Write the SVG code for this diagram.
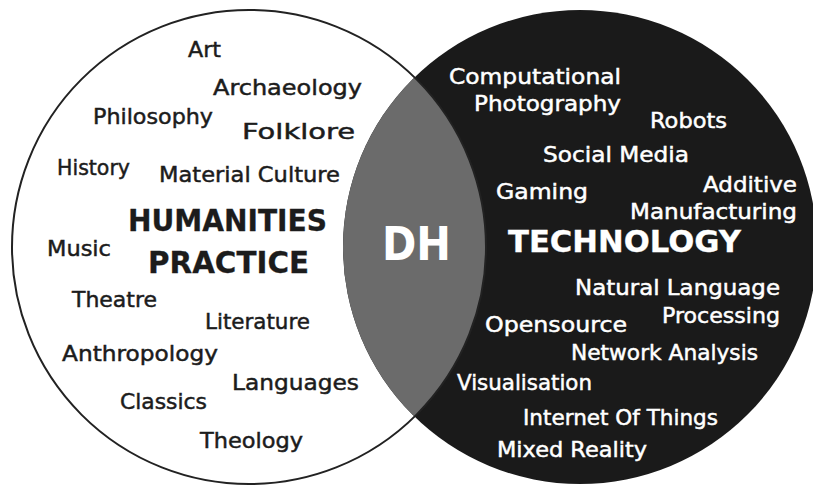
<svg xmlns="http://www.w3.org/2000/svg" width="813" height="486" viewBox="0 0 813 486">
  <style>
    .lbl { font-family: "DejaVu Sans", "Liberation Sans", sans-serif; font-size: 22px; stroke-width: 0.5px; }
    .dark { fill: #1c1c1c; stroke: #1c1c1c; }
    .light { fill: #ffffff; stroke: #ffffff; }
    .title { font-family: "DejaVu Sans", "Liberation Sans", sans-serif; font-weight: bold; font-size: 30px; stroke-width: 0.3px; }
  </style>
  <defs>
    <clipPath id="clip-tech">
      <circle cx="580" cy="247" r="237"/>
    </clipPath>
  </defs>

  <!-- Humanities circle -->
  <g id="humanities">
    <circle cx="249" cy="247" r="237" fill="#ffffff"/>
  </g>

  <!-- Technology circle -->
  <g id="technology">
    <circle cx="580" cy="247" r="237" fill="#1a1a1a"/>
  </g>

  <!-- Overlap: Digital Humanities -->
  <g id="dh">
    <circle cx="249" cy="247" r="237" fill="#6b6b6b" clip-path="url(#clip-tech)"/>
    <text x="382" y="260" font-family="DejaVu Sans, Liberation Sans, sans-serif" font-weight="bold" font-size="47" fill="#ffffff" textLength="69" lengthAdjust="spacingAndGlyphs">DH</text>
  </g>

  <!-- Humanities outline -->
  <circle cx="249" cy="247" r="237" fill="none" stroke="#222222" stroke-width="2"/>

  <!-- Humanities topics -->
  <g id="humanities-labels" class="lbl dark">
    <text x="188" y="57" textLength="33" lengthAdjust="spacingAndGlyphs">Art</text>
    <text x="213" y="95" textLength="149" lengthAdjust="spacingAndGlyphs">Archaeology</text>
    <text x="93" y="124" textLength="120" lengthAdjust="spacingAndGlyphs">Philosophy</text>
    <text x="242" y="139" textLength="113" lengthAdjust="spacingAndGlyphs">Folklore</text>
    <text x="57" y="175" textLength="73" lengthAdjust="spacingAndGlyphs">History</text>
    <text x="159" y="182" textLength="181" lengthAdjust="spacingAndGlyphs">Material Culture</text>
    <text x="47" y="256" textLength="64" lengthAdjust="spacingAndGlyphs">Music</text>
    <text x="72" y="307" textLength="85" lengthAdjust="spacingAndGlyphs">Theatre</text>
    <text x="205" y="329" textLength="105" lengthAdjust="spacingAndGlyphs">Literature</text>
    <text x="62" y="361" textLength="156" lengthAdjust="spacingAndGlyphs">Anthropology</text>
    <text x="232" y="390" textLength="127" lengthAdjust="spacingAndGlyphs">Languages</text>
    <text x="120" y="409" textLength="87" lengthAdjust="spacingAndGlyphs">Classics</text>
    <text x="200" y="448" textLength="103" lengthAdjust="spacingAndGlyphs">Theology</text>
  </g>
  <g id="humanities-title" class="title dark">
    <text x="128" y="231" textLength="199" lengthAdjust="spacingAndGlyphs">HUMANITIES</text>
    <text x="148" y="273" textLength="161" lengthAdjust="spacingAndGlyphs">PRACTICE</text>
  </g>

  <!-- Technology topics -->
  <g id="technology-labels" class="lbl light">
    <text x="449" y="84" textLength="172" lengthAdjust="spacingAndGlyphs">Computational</text>
    <text x="474" y="111" textLength="147" lengthAdjust="spacingAndGlyphs">Photography</text>
    <text x="650" y="128" textLength="77" lengthAdjust="spacingAndGlyphs">Robots</text>
    <text x="543" y="162" textLength="146" lengthAdjust="spacingAndGlyphs">Social Media</text>
    <text x="496" y="199" textLength="92" lengthAdjust="spacingAndGlyphs">Gaming</text>
    <text x="703" y="192" textLength="94" lengthAdjust="spacingAndGlyphs">Additive</text>
    <text x="630" y="219" textLength="167" lengthAdjust="spacingAndGlyphs">Manufacturing</text>
    <text x="575" y="295" textLength="205" lengthAdjust="spacingAndGlyphs">Natural Language</text>
    <text x="662" y="323" textLength="118" lengthAdjust="spacingAndGlyphs">Processing</text>
    <text x="485" y="332" textLength="142" lengthAdjust="spacingAndGlyphs">Opensource</text>
    <text x="571" y="360" textLength="187" lengthAdjust="spacingAndGlyphs">Network Analysis</text>
    <text x="457" y="390" textLength="135" lengthAdjust="spacingAndGlyphs">Visualisation</text>
    <text x="523" y="425" textLength="195" lengthAdjust="spacingAndGlyphs">Internet Of Things</text>
    <text x="497" y="457" textLength="150" lengthAdjust="spacingAndGlyphs">Mixed Reality</text>
  </g>
  <g id="technology-title" class="title light">
    <text x="508" y="252" textLength="233" lengthAdjust="spacingAndGlyphs">TECHNOLOGY</text>
  </g>
</svg>
